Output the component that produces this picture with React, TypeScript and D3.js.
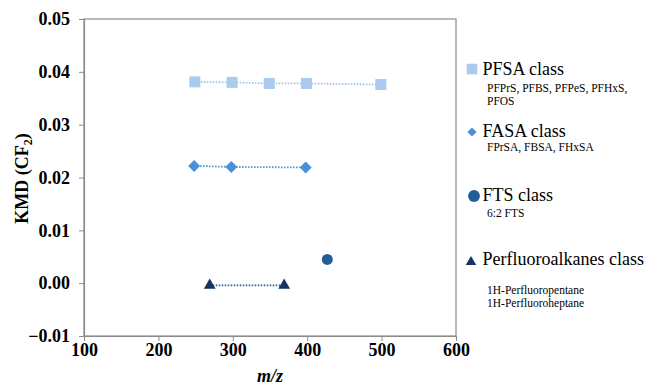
import React, { useEffect, useRef } from 'react'
import * as d3 from 'd3'

// data
const pfsaMz = [249, 299, 349, 399, 499]
const pfsaKmd = [0.0381, 0.038, 0.0378, 0.0378, 0.0376]
const fasaMz = [248, 298, 398]
const fasaKmd = [0.0222, 0.022, 0.0219]
const ftsMz = [427]
const ftsKmd = [0.0045]
const alkMz = [269, 369]
const alkKmd = [-0.0004, -0.0004]

const xTicks = [100, 200, 300, 400, 500, 600]
const yTicks = [-0.01, 0, 0.01, 0.02, 0.03, 0.04, 0.05]

const legendItems = [
  { name: 'PFSA class', sub: ['PFPrS, PFBS, PFPeS, PFHxS,', 'PFOS'], shape: 'square', color: '#a9cbee' },
  { name: 'FASA class', sub: ['FPrSA, FBSA, FHxSA'], shape: 'diamond', color: '#4a90d9' },
  { name: 'FTS class', sub: ['6:2 FTS'], shape: 'circle', color: '#225d99' },
  { name: 'Perfluoroalkanes class', sub: ['', '1H-Perfluoropentane', '1H-Perfluoroheptane'], shape: 'triangle', color: '#12365d' },
]

const symbols: Record<string, d3.SymbolType> = {
  square: d3.symbolSquare,
  diamond: d3.symbolSquare,
  circle: d3.symbolCircle,
  triangle: d3.symbolTriangle,
}

const font = "'Liberation Serif', 'DejaVu Serif', 'Times New Roman', serif"

const App = () => {
  const ref = useRef<SVGSVGElement>(null)

  useEffect(() => {
    const width = 649
    const height = 387
    const margin = { top: 19, right: 193, bottom: 51, left: 84 }
    const svg = d3.select(ref.current)
    svg.selectAll('*').remove()

    const x = d3.scaleLinear().domain([100, 600]).range([margin.left, width - margin.right])
    const y = d3.scaleLinear().domain([-0.01, 0.05]).range([height - margin.bottom, margin.top])

    // frame
    svg.append('rect')
      .attr('x', x(100)).attr('y', y(0.05))
      .attr('width', x(600) - x(100)).attr('height', y(-0.01) - y(0.05))
      .attr('fill', 'none').attr('stroke', '#8a8a8a').attr('stroke-width', 1.2)

    const xAxis = svg.append('g')
      .attr('transform', 'translate(0,' + y(-0.01) + ')')
      .call(d3.axisBottom(x).tickValues(xTicks).tickSizeInner(5).tickSizeOuter(0).tickPadding(2).tickFormat(d3.format('d')))
    const yAxis = svg.append('g')
      .attr('transform', 'translate(' + x(100) + ',0)')
      .call(d3.axisLeft(y).tickValues(yTicks).tickSizeInner(5).tickSizeOuter(0).tickPadding(9).tickFormat(d3.format('.2f')))

    ;[xAxis, yAxis].forEach(g => {
      g.attr('font-family', null)
      g.select('.domain').attr('stroke', '#8a8a8a').attr('stroke-width', 1.2)
      g.selectAll('.tick line').attr('stroke', '#8a8a8a')
      g.selectAll('.tick text')
        .attr('fill', '#000')
        .style('font-family', font)
        .style('font-size', '18px').style('font-weight', 'bold')
    })

    // axis titles
    svg.append('text')
      .attr('x', (x(100) + x(600)) / 2).attr('y', 382)
      .attr('text-anchor', 'middle')
      .style('font-family', font).style('font-size', '18px')
      .style('font-weight', 'bold').style('font-style', 'italic')
      .text('m/z')

    const yt = svg.append('text')
      .attr('transform', 'translate(28,' + (y(0.02) + 1) + ') rotate(-90)')
      .attr('text-anchor', 'middle')
      .style('font-family', font).style('font-size', '18px').style('font-weight', 'bold')
    yt.append('tspan').text('KMD (CF')
    yt.append('tspan').style('font-size', '12px').attr('dy', 4).text('2')
    yt.append('tspan').attr('dy', -4).text(')')

    // series
    const series = [
      { mz: pfsaMz, kmd: pfsaKmd, item: legendItems[0], size: 121, line: '#9ec4ec' },
      { mz: fasaMz, kmd: fasaKmd, item: legendItems[1], size: 72, line: '#4a90d9' },
      { mz: ftsMz, kmd: ftsKmd, item: legendItems[2], size: 95, line: '#225d99' },
      { mz: alkMz, kmd: alkKmd, item: legendItems[3], size: 60, line: '#2a5a94' },
    ]

    series.forEach(s => {
      const pts = s.mz.map((m, i) => [x(m), y(s.kmd[i])] as [number, number])
      if (pts.length > 1) {
        svg.append('path')
          .attr('d', d3.line()(pts))
          .attr('fill', 'none')
          .attr('stroke', s.line)
          .attr('stroke-width', 1.8)
          .attr('stroke-dasharray', '1.5,1.5')
      }
      const sym = d3.symbol().type(symbols[s.item.shape]).size(s.size)
      svg.selectAll(null)
        .data(pts)
        .enter()
        .append('path')
        .attr('d', sym)
        .attr('fill', s.item.color)
        .attr('transform', d => 'translate(' + d[0] + ',' + d[1] + ')' + (s.item.shape === 'diamond' ? ' rotate(45)' : ''))
    })

    // legend
    const legendY = [75, 137, 201, 265]
    const legendSizes = [112, 42, 110, 48]
    const markerDy = [-6, -5, -5, -3]
    const subY = [[17, 30], [14], [16], [0, 29, 42]]
    legendItems.forEach((it, i) => {
      const g = svg.append('g').attr('transform', 'translate(472,' + legendY[i] + ')')
      g.append('path')
        .attr('d', d3.symbol().type(symbols[it.shape]).size(legendSizes[i]))
        .attr('fill', it.color)
        .attr('transform', 'translate(' + (i === 3 ? -1 : i === 2 ? 2 : 0) + ',' + markerDy[i] + ')' + (it.shape === 'diamond' ? ' rotate(45)' : ''))
      g.append('text')
        .attr('x', 10.5).attr('y', 0)
        .style('font-family', font).style('font-size', '18px')
        .text(it.name)
      it.sub.forEach((t, j) => {
        g.append('text')
          .attr('x', 15).attr('y', subY[i][j])
          .style('font-family', font).style('font-size', '11.5px')
          .text(t)
      })
    })
  }, [])

  return (
    <svg ref={ref} width={649} height={387}
      style={{ position: 'absolute', left: 0, top: 0, background: '#fff' }} />
  )
}

export default App
